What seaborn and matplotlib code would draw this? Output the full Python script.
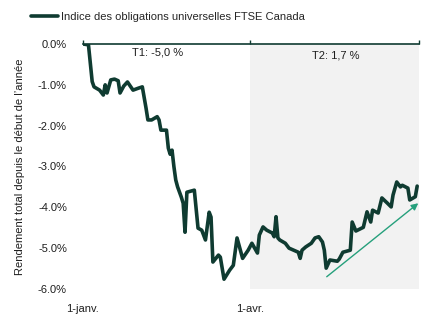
import numpy as np
import pandas as pd
import matplotlib
matplotlib.use("Agg")
import matplotlib.pyplot as plt
import seaborn as sns

# Day offsets from 1 January 2021 and year-to-date total return (%)
day_offsets = [0, 3, 5, 6, 9, 11, 12, 13, 15, 17, 19, 20, 22, 24, 27, 30, 32, 34, 35, 37,
               40, 41, 42, 45, 46, 47, 48, 49, 50, 51, 53, 54, 55, 56, 60, 62, 64, 66, 68, 69,
               70, 73, 74, 76, 79, 81, 83, 86, 89, 91, 94, 95, 97, 99, 102, 103, 104, 105, 106, 109,
               111, 116, 117, 118, 120, 123, 125, 127, 129, 130, 131, 133, 137, 138, 140, 144, 145, 147, 151, 153,
               155, 156, 159, 161, 164, 166, 167, 169, 171, 172, 175, 176, 179, 180]
ytd_return = [0.00, -0.02, -0.92, -1.05, -1.13, -1.25, -1.00, -1.20, -0.88, -0.86, -0.90, -1.20, -1.03, -0.93, -1.13, -1.08, -1.05, -1.57, -1.86, -1.86,
              -1.78, -1.86, -2.11, -2.11, -2.55, -2.70, -2.60, -3.00, -3.33, -3.50, -3.75, -3.90, -4.61, -3.63, -3.58, -4.51, -4.56, -4.80, -4.12, -4.24,
              -5.34, -5.17, -5.22, -5.76, -5.54, -5.42, -4.75, -5.25, -5.05, -4.88, -5.12, -4.68, -4.48, -4.56, -4.63, -4.72, -4.23, -4.75, -4.80, -4.88,
              -5.00, -5.10, -5.25, -5.05, -4.97, -4.88, -4.75, -4.72, -4.85, -5.05, -5.49, -5.29, -5.32, -5.27, -5.10, -5.05, -4.36, -4.58, -4.49, -4.11,
              -4.36, -4.07, -4.14, -3.77, -3.90, -3.99, -3.70, -3.38, -3.50, -3.46, -3.53, -3.82, -3.74, -3.48]

series_name = "Indice des obligations universelles FTSE Canada"
quarter_labels = ["T1: -5,0 %", "T2: 1,7 %"]
tick_dates = ["2021-01-01", "2021-04-01", "2021-07-01"]
tick_labels = ["1-janv.", "1-avr.", ""]
y_ticks = [0, -1, -2, -3, -4, -5, -6]
trend_start = (131.3, -5.70)
trend_end = (180.6, -3.90)

start = pd.Timestamp("2021-01-01")
df = pd.DataFrame({
    "date": start + pd.to_timedelta(day_offsets, unit="D"),
    "rendement": ytd_return,
    "serie": series_name,
})

sns.set_style("white")
plt.rcParams["font.family"] = ["Liberation Sans", "DejaVu Sans"]

dark = "#0f3b31"
teal = "#26a07c"
text_color = "#1e1e1e"
fs = 8

fig = plt.figure(figsize=(4.34, 3.23), dpi=100)
ax = fig.add_axes([0.191, 0.1053, 0.7745, 0.7585])

q2_start = pd.Timestamp(tick_dates[1])
q_end = pd.Timestamp(tick_dates[2])
ax.axvspan(q2_start, q_end, ymin=0, ymax=1, color="#f2f2f2", zorder=0, lw=0)

sns.lineplot(data=df, x="date", y="rendement", hue="serie", palette=[dark],
             linewidth=2.6, ax=ax, legend=False, zorder=3)

ax.set_xlim(start, q_end)
ax.set_ylim(-6.0, 0.0)

# Quarter labels
ax.text(start + pd.Timedelta(days=40), -0.22, quarter_labels[0], ha="center", va="center",
        fontsize=fs, color=text_color)
ax.text(start + pd.Timedelta(days=136), -0.27, quarter_labels[1], ha="center", va="center",
        fontsize=fs, color=text_color)

# Rising trend arrow
ax.annotate("", xy=(start + pd.Timedelta(days=trend_end[0]), trend_end[1]),
            xytext=(start + pd.Timedelta(days=trend_start[0]), trend_start[1]),
            arrowprops=dict(arrowstyle="-|>", color=teal, lw=1.0, mutation_scale=10,
                            shrinkA=0, shrinkB=0),
            annotation_clip=False, zorder=4)

# Axis line at 0 % along the top, labels along the bottom
for side in ["left", "right", "bottom"]:
    ax.spines[side].set_visible(False)
ax.spines["top"].set_color(dark)
ax.spines["top"].set_linewidth(1.2)

ax.set_xticks(pd.to_datetime(tick_dates))
ax.set_xticklabels(tick_labels)
ax.tick_params(axis="x", top=True, bottom=False, labeltop=False, labelbottom=True,
               direction="out", length=3, width=1, color=dark, pad=8,
               labelsize=fs, labelcolor=text_color)

ax.set_yticks(y_ticks)
ax.set_yticklabels([f"{v:.1f}%" for v in y_ticks])
ax.tick_params(axis="y", left=False, pad=8, labelsize=fs, labelcolor=text_color)
ax.set_xlabel("")
ax.set_ylabel("Rendement total depuis le début de l\u2019année", fontsize=fs, color=text_color,
              labelpad=9)
ax.grid(False)

handle = plt.Line2D([], [], color=dark, linewidth=2.6)
fig.legend([handle], [series_name], loc="upper left", bbox_to_anchor=(0.072, 0.963),
           frameon=False, fontsize=fs, handlelength=2.4, handletextpad=0.3,
           borderaxespad=0, borderpad=0)

fig.savefig("out.png", dpi=100)
